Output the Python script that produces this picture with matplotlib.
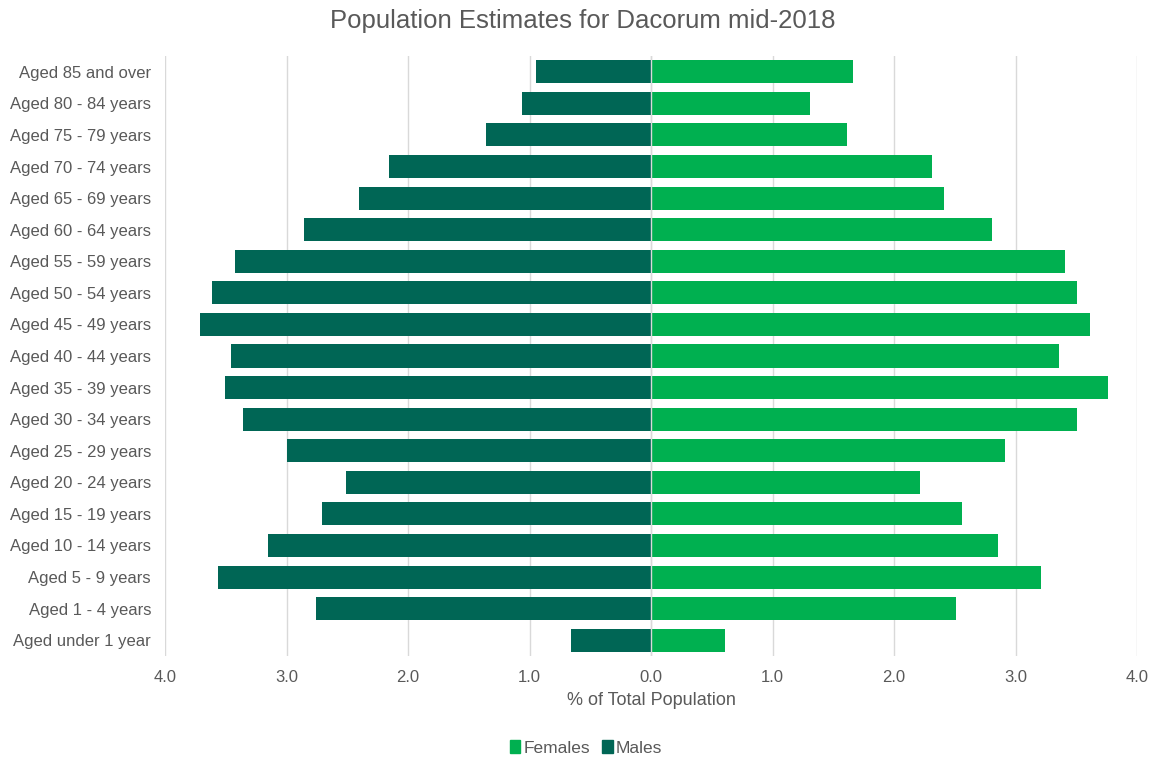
import matplotlib
matplotlib.use("Agg")
import matplotlib.pyplot as plt
from matplotlib.ticker import FuncFormatter
from matplotlib.patches import Patch

plt.rcParams['font.family'] = ['Liberation Sans', 'DejaVu Sans']

age_groups = ["Aged under 1 year", "Aged 1 - 4 years", "Aged 5 - 9 years", "Aged 10 - 14 years",
              "Aged 15 - 19 years", "Aged 20 - 24 years", "Aged 25 - 29 years", "Aged 30 - 34 years",
              "Aged 35 - 39 years", "Aged 40 - 44 years", "Aged 45 - 49 years", "Aged 50 - 54 years",
              "Aged 55 - 59 years", "Aged 60 - 64 years", "Aged 65 - 69 years", "Aged 70 - 74 years",
              "Aged 75 - 79 years", "Aged 80 - 84 years", "Aged 85 and over"]
males = [0.66, 2.76, 3.56, 3.15, 2.71, 2.51, 3.00, 3.36, 3.51, 3.46, 3.71, 3.61, 3.42, 2.86,
         2.40, 2.16, 1.36, 1.06, 0.95]
females = [0.61, 2.51, 3.21, 2.86, 2.56, 2.21, 2.91, 3.51, 3.76, 3.36, 3.61, 3.51, 3.41, 2.81,
           2.41, 2.31, 1.61, 1.31, 1.66]

fem_color = "#00B050"
male_color = "#006655"
text_color = "#595959"

fig = plt.figure(figsize=(11.54, 7.61), dpi=100)
ax = fig.add_axes([165/1154, 1 - 656/761, (1137-165)/1154, (656-56)/761])

y = list(range(len(age_groups)))
ax.barh(y, [-m for m in males], height=0.73, color=male_color, zorder=2)
ax.barh(y, females, height=0.73, color=fem_color, zorder=2)
ax.axvline(0, color="#d9d9d9", lw=1, zorder=3)

ax.set_xlim(-4, 4)
ax.set_ylim(-0.5, len(age_groups) - 0.5)
ax.set_yticks(y)
ax.set_yticklabels(age_groups)
ax.set_xticks([-4, -3, -2, -1, 0, 1, 2, 3, 4])
ax.xaxis.set_major_formatter(FuncFormatter(lambda v, p: f"{abs(v):.1f}"))
ax.grid(axis="x", color="#d9d9d9", lw=1, zorder=0)
ax.set_axisbelow(True)
for s in ax.spines.values():
    s.set_visible(False)
ax.tick_params(axis="both", length=0, colors=text_color, labelsize=12)
ax.tick_params(axis="y", pad=10)
ax.tick_params(axis="x", pad=10)
ax.set_xlabel("% of Total Population", color=text_color, fontsize=13, labelpad=5)

fig.suptitle("Population Estimates for Dacorum mid-2018", color=text_color, fontsize=18.5,
             x=583/1154, y=0.988)

handles = [Patch(color=fem_color, label="Females"), Patch(color=male_color, label="Males")]
fig.legend(handles=handles, loc="center", bbox_to_anchor=(586/1154, 1 - 748/761), ncol=2, frameon=False,
           fontsize=12.5, handlelength=0.6, handleheight=0.7, handletextpad=0.2, columnspacing=0.7,
           labelcolor=text_color)

fig.savefig("out.png", dpi=100)
